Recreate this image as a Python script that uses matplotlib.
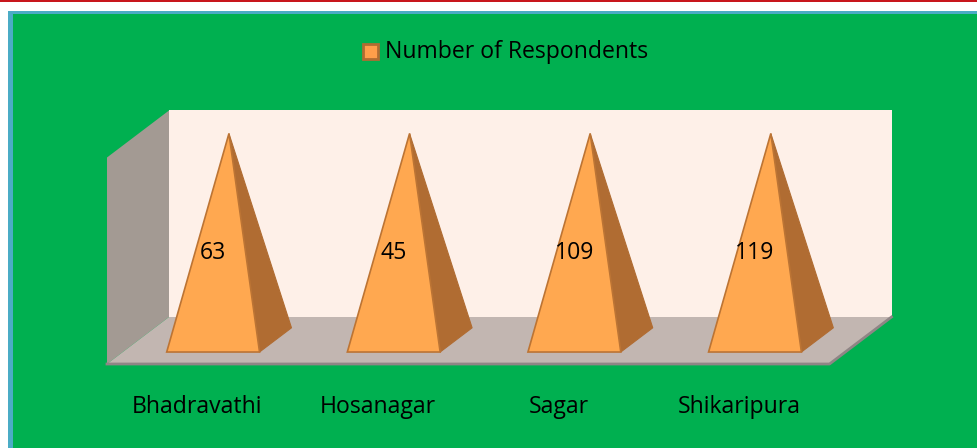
import matplotlib
matplotlib.use("Agg")
import matplotlib.pyplot as plt
from matplotlib.patches import Polygon, Rectangle

categories = ["Bhadravathi", "Hosanagar", "Sagar", "Shikaripura"]
respondents = [63, 45, 109, 119]
series_name = "Number of Respondents"

plt.rcParams['font.family'] = ['Open Sans', 'DejaVu Sans']

W, H = 978, 448
GREEN = "#00B050"
ORANGE = "#FFA850"
ORANGE_DARK = "#B06C32"
EDGE = "#BC7434"
TEXT_SIZE = 16.6


def project(cat, pct, depth):
    # category units, percent of axis, depth 0-1 -> pixel position
    x = 107 + cat * 722.5 / len(categories) + depth * 62
    y = 364 - depth * 47 - pct / 100 * 206.5
    return x, y


fig = plt.figure(figsize=(W / 100, H / 100), dpi=100, facecolor="white")
ax = fig.add_axes([0, 0, 1, 1])
ax.set_xlim(0, W)
ax.set_ylim(H, 0)
ax.axis("off")

# page furniture
ax.add_patch(Rectangle((0, 0), W, 2, fc="#C8161D", ec="none"))
ax.add_patch(Rectangle((8, 11), W - 8, H - 11, fc="#4BACC6", ec="none"))
ax.add_patch(Rectangle((13, 14), W - 13, H - 14, fc=GREEN, ec="none"))

# 3d box
n = len(categories)
back = [project(0, 100, 1), project(n, 100, 1), project(n, 0, 1), project(0, 0, 1)]
side = [project(0, 0, 0), project(0, 100, 0), project(0, 100, 1), project(0, 0, 1)]
floor = [project(0, 0, 0), project(n, 0, 0), project(n, 0, 1), project(0, 0, 1)]
ax.add_patch(Polygon(back, fc="#FEF0E8", ec="none"))
ax.add_patch(Polygon(side, fc="#A39A93", ec="none"))
ax.add_patch(Polygon(floor, fc="#C2B6B1", ec="none"))
ax.plot([floor[0][0], floor[1][0], floor[2][0]], [floor[0][1], floor[1][1], floor[2][1]],
        color="#8F8585", lw=2)

# pyramids, all full height as the chart is 100% stacked
for i, value in enumerate(respondents):
    pct = value / sum([value]) * 100
    left = i + 0.5 - 0.257
    right = i + 0.5 + 0.257
    apex = project(i + 0.5, pct, 0.51)
    ax.add_patch(Polygon([apex, project(right, 0, 0.255), project(right, 0, 0.77)],
                         fc=ORANGE_DARK, ec=ORANGE_DARK, lw=0.8))
    ax.add_patch(Polygon([apex, project(left, 0, 0.255), project(right, 0, 0.255)],
                         fc=ORANGE, ec=EDGE, lw=1.2))
    lx, ly = project(i + 0.5, 50, 0.51)
    ax.text(lx - 16, ly + 16, str(value), fontsize=TEXT_SIZE, ha="center", va="center", color="black")
    tx, ty = project(i + 0.5, 0, 0)
    ax.text(tx, ty + 43, categories[i], fontsize=TEXT_SIZE, ha="center", va="center", color="black")

# legend
ax.add_patch(Rectangle((363, 44), 15, 15, fc="#FF9E4A", ec="#B06C32", lw=2))
ax.text(385, 52, series_name, fontsize=TEXT_SIZE, ha="left", va="center", color="black")

fig.savefig("out.png", dpi=100)
